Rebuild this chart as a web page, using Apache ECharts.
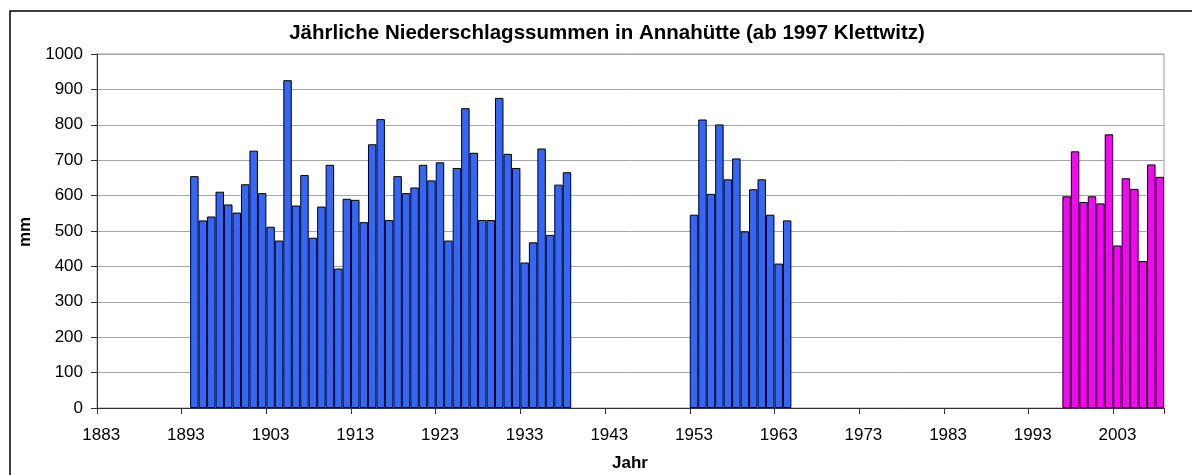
<!DOCTYPE html>
<html>
<head>
<meta charset="utf-8">
<script src="https://cdn.jsdelivr.net/npm/echarts@6/dist/echarts.min.js"></script>
<style>
html,body{margin:0;padding:0;background:#fff;}
#chart{width:1192px;height:475px;}
</style>
</head>
<body>
<div id="chart"></div>
<script>
// Axis range (years shown on the category axis)
const firstYear = 1883;
const lastYear = 2008;

// Annahütte, group 1
const yearsA = [1894,1895,1896,1897,1898,1899,1900,1901,1902,1903,1904,1905,1906,1907,1908,1909,1910,1911,1912,1913,1914,1915,1916,1917,1918,1919,1920,1921,1922,1923,1924,1925,1926,1927,1928,1929,1930,1931,1932,1933,1934,1935,1936,1937,1938];
const valuesA = [655,530,541,611,575,552,632,727,607,512,473,926,572,658,481,569,687,394,591,588,525,745,816,531,655,607,623,687,643,694,473,678,847,721,531,531,876,718,678,411,468,733,489,631,666];

// Annahütte, group 2
const yearsB = [1953,1954,1955,1956,1957,1958,1959,1960,1961,1962,1963,1964];
const valuesB = [546,815,605,801,646,705,499,618,646,546,408,530];

// Klettwitz (ab 1997)
const yearsK = [1997,1998,1999,2000,2001,2002,2003,2004,2005,2006,2007,2008];
const valuesK = [598,725,582,598,578,773,459,649,619,415,688,653];

const yTicks = [0,100,200,300,400,500,600,700,800,900,1000];

const categories = [];
for (let y = firstYear; y <= lastYear; y++) categories.push(String(y));

const blueData = categories.map(() => null);
yearsA.forEach((y, i) => { blueData[y - firstYear] = valuesA[i]; });
yearsB.forEach((y, i) => { blueData[y - firstYear] = valuesB[i]; });
const pinkData = categories.map(() => null);
yearsK.forEach((y, i) => { pinkData[y - firstYear] = valuesK[i]; });

const FONT = '"Liberation Sans", Arial, sans-serif';
const chart = echarts.init(document.getElementById('chart'), null, {renderer: 'canvas'});
chart.setOption({
  animation: false,
  backgroundColor: '#fff',
  grid: {
    left: 97, right: 28, top: 54, bottom: 67,
    show: true, borderColor: '#9a9a9a', borderWidth: 1, backgroundColor: 'transparent'
  },
  xAxis: {
    type: 'category',
    data: categories,
    boundaryGap: true,
    axisLine: {lineStyle: {color: '#333', width: 1}},
    axisTick: {show: true, interval: 9, length: 6, lineStyle: {color: '#333'}},
    axisLabel: {interval: 9, color: '#000', fontFamily: FONT, fontSize: 17, margin: 19},
    splitLine: {show: false}
  },
  yAxis: {
    type: 'value',
    min: yTicks[0], max: yTicks[yTicks.length - 1], interval: 100,
    axisLine: {show: true, lineStyle: {color: '#333', width: 1}},
    axisTick: {show: true, length: 6, lineStyle: {color: '#333'}},
    axisLabel: {color: '#000', fontFamily: FONT, fontSize: 17, margin: 14,
                formatter: function (v) { return String(v); }},
    splitLine: {show: true, lineStyle: {color: '#a6a6a6', width: 1}}
  },
  series: [
    {
      name: 'Annahütte', type: 'bar', data: blueData,
      barCategoryGap: '0%', barGap: '-100%',
      itemStyle: {color: '#3366FF', borderColor: '#000', borderWidth: 1}
    },
    {
      name: 'Klettwitz', type: 'bar', data: pinkData,
      barCategoryGap: '0%', barGap: '-100%',
      itemStyle: {color: '#FF00FF', borderColor: '#000', borderWidth: 1}
    }
  ],
  graphic: [
    {type: 'rect', shape: {x: 10, y: 11, width: 1300, height: 600},
     style: {fill: 'none', stroke: '#000', lineWidth: 1.5}, silent: true},
    {type: 'text', x: 607, y: 33,
     style: {text: 'Jährliche Niederschlagssummen in Annahütte (ab 1997 Klettwitz)',
             font: 'bold 20.5px ' + FONT, fill: '#000', textAlign: 'center', textVerticalAlign: 'middle'}},
    {type: 'text', x: 25, y: 232, rotation: Math.PI / 2,
     style: {text: 'mm', font: 'bold 17px ' + FONT, fill: '#000', textAlign: 'center', textVerticalAlign: 'middle'}},
    {type: 'text', x: 630, y: 463,
     style: {text: 'Jahr', font: 'bold 17px ' + FONT, fill: '#000', textAlign: 'center', textVerticalAlign: 'middle'}}
  ]
});
</script>
</body>
</html>
